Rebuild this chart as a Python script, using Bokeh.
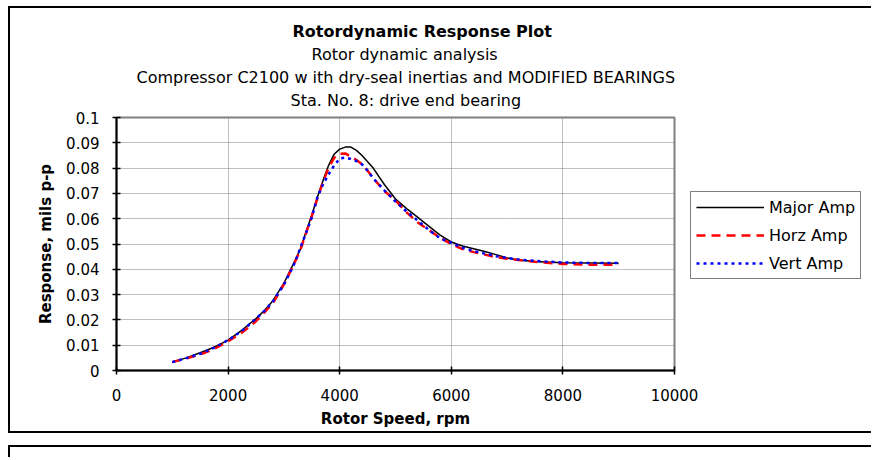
from bokeh.plotting import figure
from bokeh.models import Range1d, FixedTicker, Legend, LegendItem, Title, Div, Spacer
from bokeh.layouts import column, row
from bokeh.embed import file_html
from bokeh.resources import INLINE

# ---------------- data ----------------
RPM = [1000, 1250, 1500, 1750, 2000, 2250, 2500, 2650, 2800, 3000, 3100, 3200,
       3300, 3400, 3500, 3600, 3700, 3800, 3900, 4000, 4100, 4200, 4300, 4400,
       4500, 4600, 4800, 5000, 5200, 5400, 5600, 5800, 6000, 6200, 6400, 6600,
       6800, 7000, 7200, 7500, 8000, 8500, 9000]

MAJOR_AMP = [0.0033, 0.0050, 0.0070, 0.0092, 0.0120, 0.0160, 0.0205, 0.0237, 0.0275,
             0.0345, 0.0390, 0.0435, 0.0482, 0.0550, 0.0615, 0.0685, 0.0750, 0.0810,
             0.0855, 0.0875, 0.0883, 0.0883, 0.0870, 0.0850, 0.0825, 0.0800, 0.0735,
             0.0678, 0.0640, 0.0605, 0.0570, 0.0535, 0.0508, 0.0492, 0.0481, 0.0470,
             0.0458, 0.0445, 0.0437, 0.0431, 0.0426, 0.0425, 0.0424]

HORZ_AMP = [0.0033, 0.0048, 0.0063, 0.0085, 0.0115, 0.0150, 0.0195, 0.0230, 0.0265,
            0.0340, 0.0385, 0.0430, 0.0480, 0.0545, 0.0610, 0.0680, 0.0745, 0.0800,
            0.0840, 0.0857, 0.0858, 0.0845, 0.0832, 0.0815, 0.0790, 0.0760, 0.0710,
            0.0672, 0.0625, 0.0585, 0.0555, 0.0525, 0.0500, 0.0480, 0.0468, 0.0458,
            0.0448, 0.0442, 0.0437, 0.0430, 0.0421, 0.0418, 0.0418]

VERT_AMP = [0.0033, 0.0049, 0.0066, 0.0090, 0.0120, 0.0157, 0.0205, 0.0235, 0.0272,
            0.0340, 0.0383, 0.0428, 0.0488, 0.0545, 0.0605, 0.0685, 0.0735, 0.0775,
            0.0810, 0.0838, 0.0842, 0.0836, 0.0828, 0.0815, 0.0790, 0.0760, 0.0712,
            0.0668, 0.0628, 0.0592, 0.0555, 0.0522, 0.0505, 0.0485, 0.0472, 0.0462,
            0.0452, 0.0445, 0.0439, 0.0433, 0.0427, 0.0425, 0.0425]

SERIES_NAMES = ["Major Amp", "Horz Amp", "Vert Amp"]

X_TICKS = [0, 2000, 4000, 6000, 8000, 10000]
Y_TICKS = [0, 0.01, 0.02, 0.03, 0.04, 0.05, 0.06, 0.07, 0.08, 0.09, 0.1]
Y_TICK_LABELS = ["0", "0.01", "0.02", "0.03", "0.04", "0.05", "0.06", "0.07",
                 "0.08", "0.09", "0.1"]

TITLE_LINES = ["Rotordynamic Response Plot",
               "Rotor dynamic analysis",
               "Compressor C2100 w ith dry-seal inertias and MODIFIED BEARINGS",
               "Sta. No. 8: drive end bearing"]
X_LABEL = "Rotor Speed, rpm"
Y_LABEL = "Response, mils p-p"

FONT = "DejaVu Sans"
STYLES = [dict(line_color="black", line_width=1.5),
          dict(line_color="#ff0000", line_width=2.5, line_dash="9 6"),
          dict(line_color="#0000ff", line_width=2.5, line_dash="3 4")]
SERIES = [MAJOR_AMP, HORZ_AMP, VERT_AMP]

# ---------------- main figure ----------------
p = figure(width=863, height=427, output_backend="svg", toolbar_location=None,
           x_range=Range1d(0, 10000), y_range=Range1d(0, 0.1),
           min_border_left=106, min_border_right=199, min_border_top=109,
           min_border_bottom=65)
p.styles = {"border-left": "2px solid black", "border-top": "2px solid black",
            "border-bottom": "2px solid black"}
p.background_fill_color = "white"
p.border_fill_color = "white"
p.outline_line_color = "#808080"
p.outline_line_width = 2

for ax in (p.xaxis[0], p.yaxis[0]):
    ax.axis_line_color = "black"
    ax.axis_line_width = 2
    ax.major_tick_line_color = "black"
    ax.major_tick_line_width = 1.5
    ax.major_tick_in = 4
    ax.major_tick_out = 4
    ax.minor_tick_line_color = None
    ax.major_label_text_font = FONT
    ax.major_label_text_font_size = "15px"
    ax.major_label_text_color = "black"
    ax.axis_label_text_font = FONT
    ax.axis_label_text_font_size = "15px"
    ax.axis_label_text_font_style = "bold"
    ax.axis_label_text_color = "black"

p.xaxis[0].ticker = FixedTicker(ticks=X_TICKS)
p.yaxis[0].ticker = FixedTicker(ticks=Y_TICKS)
p.yaxis[0].major_label_overrides = dict(zip(Y_TICKS, Y_TICK_LABELS))
p.xaxis[0].axis_label = X_LABEL
p.yaxis[0].axis_label = Y_LABEL
p.xaxis[0].major_label_standoff = 14
p.yaxis[0].major_label_standoff = 13
p.xaxis[0].axis_label_standoff = 6
p.yaxis[0].axis_label_standoff = 8

for g in (p.xgrid[0], p.ygrid[0]):
    g.grid_line_color = "#808080"
    g.grid_line_dash = "1 1"
    g.grid_line_width = 1

for ys, st in zip(SERIES, STYLES):
    p.line(RPM, ys, **st)

# small empty spacer title next to the frame, then the four title lines
p.add_layout(Title(text=" ", text_font_size="1px", standoff=4), "above")
title_offsets = [174, 20, 195, 176]
for i, txt in enumerate(reversed(TITLE_LINES)):
    bold = (i == len(TITLE_LINES) - 1)
    p.add_layout(Title(text=txt, align="left", offset=title_offsets[i], standoff=2,
                       text_font=FONT, text_font_size="16px",
                       text_font_style="bold" if bold else "normal",
                       text_color="black"), "above")

# ---------------- legend: transparent overlay figure over the right part -------
lg = figure(width=184, height=431, output_backend="svg", toolbar_location=None,
            x_range=Range1d(0, 1), y_range=Range1d(0, 1),
            x_axis_location=None, y_axis_location=None, min_border=0,
            margin=(0, 0, 0, -184))
lg.outline_line_color = None
lg.background_fill_color = None
lg.border_fill_color = None
lg.grid.visible = False
leg_renderers = [lg.line(RPM, ys, **st) for ys, st in zip(SERIES, STYLES)]

legend = Legend(items=[LegendItem(label=n, renderers=[r])
                       for n, r in zip(SERIES_NAMES, leg_renderers)],
                location=(3, 93), orientation="vertical",
                label_text_font=FONT, label_text_font_size="16px",
                label_text_color="black",
                glyph_width=68, glyph_height=20, label_height=20,
                label_standoff=5, spacing=8, padding=5, margin=0,
                border_line_color="black", border_line_width=1.5,
                background_fill_color="white", background_fill_alpha=1.0)
lg.add_layout(legend, "center")

box2 = Div(text="", width=863, height=12, margin=0,
           styles={"border-top": "2px solid black", "border-left": "2px solid black"})

layout = column(Spacer(height=6),
                row(Spacer(width=8), p, lg),
                Spacer(height=8),
                row(Spacer(width=8), box2))

open("out.html", "w").write(file_html(layout, INLINE))
